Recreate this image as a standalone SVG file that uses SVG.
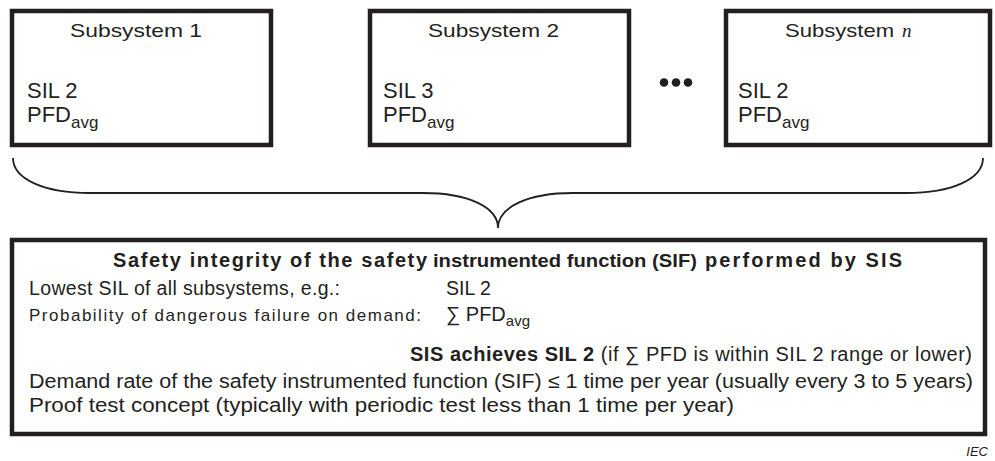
<svg xmlns="http://www.w3.org/2000/svg" width="995" height="461" viewBox="0 0 995 461">
  <style>
    text { font-family: "Liberation Sans", Arial, sans-serif; fill: #231f20; }
    .box { fill: #ffffff; stroke: #231f20; stroke-width: 4.5; }
    .head { font-size: 19px; }
    .big { font-size: 22px; }
    .sub { font-size: 17px; }
    .b { font-weight: bold; }
    .brace { fill: none; stroke: #231f20; stroke-width: 1.8; }
  </style>
  <rect width="995" height="461" fill="#ffffff"/>

  <g id="subsystem-1">
    <rect class="box" x="12" y="11" width="259" height="134"/>
    <text class="head" x="70" y="37" textLength="132" lengthAdjust="spacingAndGlyphs">Subsystem 1</text>
    <text class="big" x="27" y="98">SIL 2</text>
    <text class="big" x="27" y="122">PFD<tspan class="sub" dy="6">avg</tspan></text>
  </g>

  <g id="subsystem-2">
    <rect class="box" x="370" y="11" width="259" height="134"/>
    <text class="head" x="428" y="37" textLength="131" lengthAdjust="spacingAndGlyphs">Subsystem 2</text>
    <text class="big" x="383" y="98">SIL 3</text>
    <text class="big" x="383" y="122">PFD<tspan class="sub" dy="6">avg</tspan></text>
  </g>

  <g id="ellipsis">
    <circle cx="664" cy="82.5" r="4.3" fill="#231f20"/>
    <circle cx="676" cy="82.5" r="4.3" fill="#231f20"/>
    <circle cx="688" cy="82.5" r="4.3" fill="#231f20"/>
  </g>

  <g id="subsystem-n">
    <rect class="box" x="726" y="11" width="264" height="134"/>
    <text class="head" x="785" y="37" textLength="109" lengthAdjust="spacingAndGlyphs">Subsystem</text>
    <text x="902" y="37" style="font-family:'Liberation Serif','Times New Roman',serif;font-style:italic;font-size:19px">n</text>
    <text class="big" x="738" y="98">SIL 2</text>
    <text class="big" x="738" y="122">PFD<tspan class="sub" dy="6">avg</tspan></text>
  </g>

  <g id="connectors">
    <path class="brace" d="M13,158 C13,179 44,193 90,193 L423,193 C468,193 498,207 498,228 C498,207 528,193 573,193 L906,193 C952,193 983,179 983,158"/>
  </g>

  <g id="sif-summary">
    <rect class="box" x="12" y="240" width="973" height="194"/>
    <text class="b" x="113" y="267" style="font-size:20px" textLength="314" lengthAdjust="spacing">Safety integrity of the safety</text>
    <text class="b" x="433" y="267" style="font-size:19px" textLength="264" lengthAdjust="spacingAndGlyphs">instrumented function (SIF)</text>
    <text class="b" x="705" y="267" style="font-size:20px" textLength="197" lengthAdjust="spacing">performed by SIS</text>

    <text x="29" y="295" style="font-size:19.5px" textLength="311" lengthAdjust="spacing">Lowest SIL of all subsystems, e.g.:</text>
    <text x="446" y="295" style="font-size:19.5px">SIL 2</text>

    <text x="29" y="321" style="font-size:17px" textLength="392" lengthAdjust="spacing">Probability of dangerous failure on demand:</text>
    <text x="446" y="321" style="font-size:20px">∑ PFD<tspan style="font-size:15px" dy="5">avg</tspan></text>

    <text x="410" y="361" style="font-size:20px" textLength="562" lengthAdjust="spacing"><tspan class="b">SIS achieves SIL 2</tspan> (if ∑ PFD is within SIL 2 range or lower)</text>

    <text x="29" y="388" style="font-size:20px" textLength="944" lengthAdjust="spacingAndGlyphs">Demand rate of the safety instrumented function (SIF) ≤ 1 time per year (usually every 3 to 5 years)</text>
    <text x="29" y="412" style="font-size:20px" textLength="705" lengthAdjust="spacingAndGlyphs">Proof test concept (typically with periodic test less than 1 time per year)</text>
  </g>

  <text x="988" y="456" text-anchor="end" style="font-size:13px;font-style:italic">IEC</text>
</svg>
